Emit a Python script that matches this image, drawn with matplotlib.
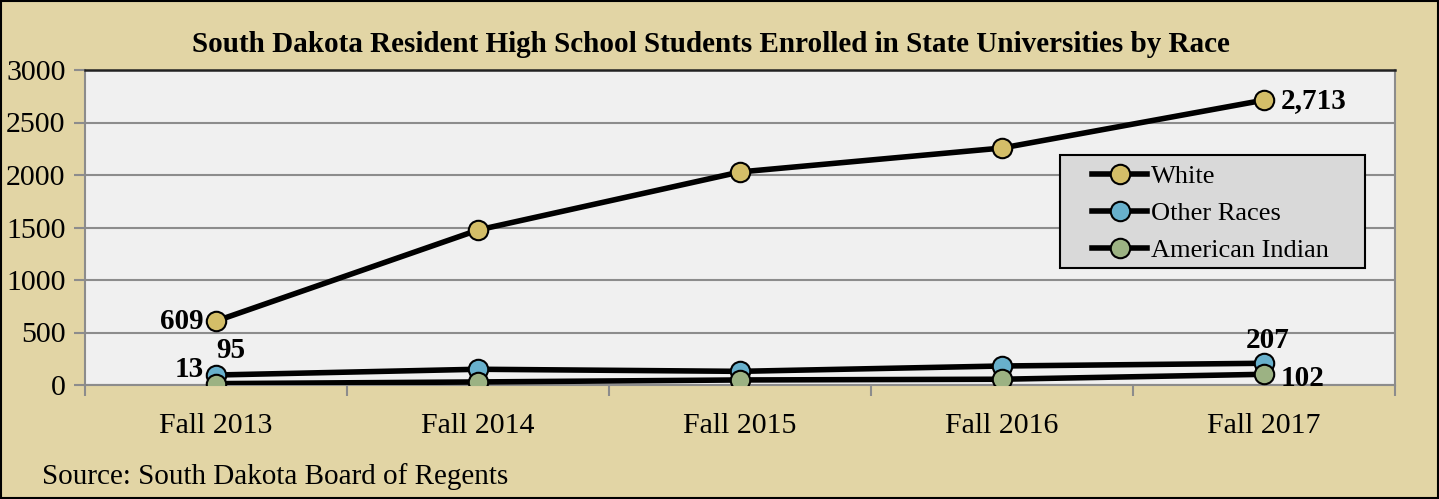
import matplotlib.pyplot as plt
from matplotlib.patches import Rectangle

terms = ['Fall 2013', 'Fall 2014', 'Fall 2015', 'Fall 2016', 'Fall 2017']
white = [609, 1476, 2029, 2257, 2713]
other_races = [95, 150, 130, 181, 207]
american_indian = [13, 29, 48, 55, 102]

plt.rcParams['font.family'] = ['Liberation Serif', 'DejaVu Serif']

bg = '#E2D5A5'
W, H = 1439, 499
fig = plt.figure(figsize=(W / 100, H / 100), dpi=100, facecolor=bg)
fig.patches.append(Rectangle((0.001, 0.002), 0.998, 0.996, transform=fig.transFigure,
                             fill=False, edgecolor='black', linewidth=1.5))
ax = fig.add_axes([85 / W, 1 - 385 / H, 1310 / W, 315 / H])
ax.set_facecolor('#F0F0F0')

x = list(range(len(terms)))
series = [(white, '#D4BE68', 'White'),
          (other_races, '#68B0CC', 'Other Races'),
          (american_indian, '#9CB283', 'American Indian')]
for vals, col, name in series:
    ax.plot(x, vals, color='black', linewidth=4, marker='o', markersize=14,
            markerfacecolor=col, markeredgecolor='black', markeredgewidth=1.5,
            label=name, zorder=3)

ax.set_xlim(-0.5, 4.5)
ax.set_ylim(0, 3000)
ax.set_yticks(range(0, 3001, 500))
ax.set_xticks(x)
ax.set_xticklabels(terms)
ax.set_xticks([i - 0.5 for i in range(6)], minor=True)
ax.tick_params(axis='x', which='major', length=0, labelsize=21.5, pad=20)
ax.tick_params(axis='x', which='minor', length=8, color='#8C8C8C', width=1.5, direction='out')
ax.tick_params(axis='y', length=8, color='#8C8C8C', width=1.5, labelsize=21.5, pad=6)
ax.grid(axis='y', color='#8C8C8C', linewidth=1.5, zorder=0)
for s in ['left', 'bottom', 'right']:
    ax.spines[s].set_color('#8C8C8C')
    ax.spines[s].set_linewidth(1.5)
ax.spines['top'].set_color('#222222')
ax.spines['top'].set_linewidth(1.8)

lab = dict(fontsize=21, fontweight='bold', color='black', zorder=4)
ax.annotate(f'{white[0]:,}', (0, white[0]), xytext=(-9, 0), textcoords='offset points',
            ha='right', va='center', **lab)
ax.annotate(f'{white[-1]:,}', (4, white[-1]), xytext=(12, 0), textcoords='offset points',
            ha='left', va='center', **lab)
ax.annotate(f'{other_races[0]:,}', (0, other_races[0]), xytext=(0, 8), textcoords='offset points',
            ha='left', va='bottom', **lab)
ax.annotate(f'{american_indian[0]:,}', (0, american_indian[0]), xytext=(-9, 10), textcoords='offset points',
            ha='right', va='center', **lab)
ax.annotate(f'{other_races[-1]:,}', (4, other_races[-1]), xytext=(3, 7), textcoords='offset points',
            ha='center', va='bottom', **lab)
ax.annotate(f'{american_indian[-1]:,}', (4, american_indian[-1]), xytext=(12, -3), textcoords='offset points',
            ha='left', va='center', **lab)

# legend box drawn by hand, legend itself without frame
box = Rectangle((1060 / W, 1 - 268 / H), 305 / W, 113 / H, transform=fig.transFigure,
                facecolor='#D9D9D9', edgecolor='black', linewidth=1.5, zorder=5)
ax.add_patch(box)
leg = ax.legend(loc='upper left', bbox_to_anchor=(1092 / W, 1 - 165 / H),
                bbox_transform=fig.transFigure, borderaxespad=0, borderpad=0,
                fontsize=19, frameon=False, handlelength=2.1,
                handletextpad=0.12, labelspacing=0.5)
leg.set_zorder(6)

fig.text(711 / W, 1 - 44 / H,
         'South Dakota Resident High School Students Enrolled in State Universities by Race',
         ha='center', va='center', fontsize=21, fontweight='bold')
fig.text(42 / W, 1 - 477 / H, 'Source: South Dakota Board of Regents',
         ha='left', va='center', fontsize=21)

fig.savefig('out.png', dpi=100, facecolor=bg)
